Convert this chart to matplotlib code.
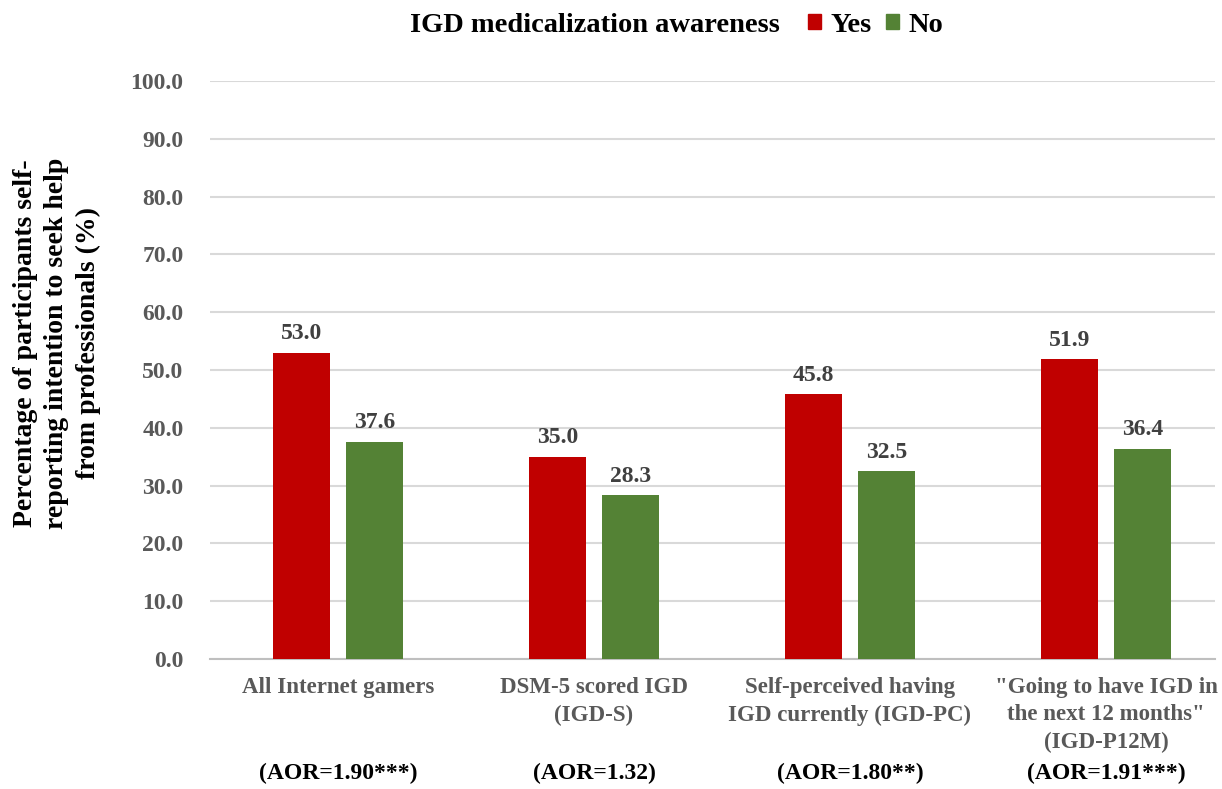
import numpy as np
import matplotlib
matplotlib.use("Agg")
import matplotlib.pyplot as plt
from matplotlib.patches import Patch
from matplotlib.transforms import blended_transform_factory

# Data
categories = ['All Internet gamers',
              'DSM-5 scored IGD\n(IGD-S)',
              'Self-perceived having\nIGD currently (IGD-PC)',
              '"Going to have IGD in\nthe next 12 months"\n(IGD-P12M)']
aor_labels = ['(AOR=1.90***)', '(AOR=1.32)', '(AOR=1.80**)', '(AOR=1.91***)']
yes_values = [53.0, 35.0, 45.8, 51.9]
no_values = [37.6, 28.3, 32.5, 36.4]

RED = '#C00000'
GREEN = '#548235'
GRID = '#D9D9D9'
TICK = '#595959'
VALUE = '#404040'

plt.rcParams['font.family'] = ['Liberation Serif', 'DejaVu Serif']
plt.rcParams['font.weight'] = 'bold'

fig = plt.figure(figsize=(12.22, 7.89), dpi=100)
ax = fig.add_axes([0.1718, 0.1648, 0.9943 - 0.1718, 0.8973 - 0.1648])

x = np.arange(len(categories))
width = 0.223
offset = 0.1426

bars_yes = ax.bar(x - offset, yes_values, width, color=RED, zorder=3)
bars_no = ax.bar(x + offset, no_values, width, color=GREEN, zorder=3)

# Value labels above each bar
for bars, vals in ((bars_yes, yes_values), (bars_no, no_values)):
    for b, v in zip(bars, vals):
        ax.annotate(f'{v:.1f}', (b.get_x() + b.get_width() / 2, v),
                    xytext=(0, 6), textcoords='offset points',
                    ha='center', va='bottom', fontsize=17,
                    fontweight='bold', color=VALUE)

ax.set_ylim(0, 100)
ax.set_xlim(-0.5, 3.426)
ax.set_yticks(np.arange(0, 101, 10))
ax.set_yticklabels([f'{t:.1f}' for t in np.arange(0, 101, 10)])
ax.yaxis.grid(True, color=GRID, linewidth=1.5, zorder=0)
ax.set_axisbelow(True)

for s in ('top', 'right', 'left'):
    ax.spines[s].set_visible(False)
ax.spines['bottom'].set_color('#BFBFBF')
ax.spines['bottom'].set_linewidth(1.5)

ax.tick_params(axis='y', length=0, pad=19, labelsize=17, labelcolor=TICK)
ax.tick_params(axis='x', length=0, pad=13, labelsize=16.5, labelcolor=TICK)
ax.set_xticks(x)
ax.set_xticklabels(categories, linespacing=1.4)
for lab in ax.get_xticklabels() + ax.get_yticklabels():
    lab.set_fontweight('bold')

# Adjusted odds ratios under each group
trans = blended_transform_factory(ax.transData, fig.transFigure)
for xi, lab in zip(x, aor_labels):
    ax.text(xi, 0.02, lab, transform=trans, ha='center', va='center',
            fontsize=17, fontweight='bold', color='black')

fig.text(57 / 1222, 0.565,
         'Percentage of participants self-\nreporting intention to seek help\nfrom professionals (%)',
         rotation=90, ha='center', va='center', multialignment='center',
         fontsize=20, fontweight='bold', color='black', linespacing=1.35)

# Legend with a title placed to its left
fig.text(595 / 1222, 1 - 25 / 789, 'IGD medicalization awareness',
         ha='center', va='center', fontsize=20.5, fontweight='bold')
handles = [Patch(color=RED, label='Yes'), Patch(color=GREEN, label='No')]
fig.legend(handles=handles, loc='center left',
           bbox_to_anchor=(788 / 1222, 1 - 25 / 789), ncol=2, frameon=False,
           prop={'size': 20.5, 'weight': 'bold'}, handlelength=0.45,
           handleheight=0.45, handletextpad=0.35, columnspacing=0.5,
           borderpad=0.2)

fig.savefig('out.png', dpi=100)
